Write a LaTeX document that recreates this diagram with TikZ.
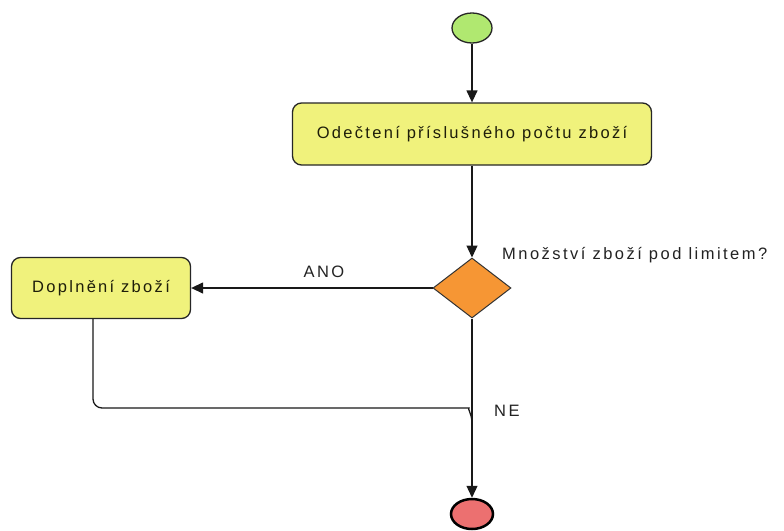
\documentclass[tikz,border=0pt]{standalone}
\usepackage{fontspec}
\setmainfont{Liberation Sans}
\newfontfamily\actfont[LetterSpace=14]{Liberation Sans}
\newfontfamily\notefont[LetterSpace=15]{Liberation Sans}
\usetikzlibrary{arrows.meta,shapes.geometric}
\definecolor{actfill}{RGB}{240,242,124}
\definecolor{startfill}{RGB}{176,232,112}
\definecolor{endfill}{RGB}{236,112,112}
\definecolor{decfill}{RGB}{246,150,52}
\definecolor{txt}{RGB}{30,30,10}
\definecolor{lbl}{RGB}{35,35,35}
\tikzset{
  action/.style={draw=black!85, line width=1.3pt, fill=actfill, rounded corners=9pt,
    font=\actfont\fontsize{16.5}{19}\selectfont, text=txt, inner sep=0pt},
  startnode/.style={ellipse, draw=black!85, line width=1.3pt, fill=startfill,
    minimum width=40pt, minimum height=30pt, inner sep=0pt},
  endnode/.style={ellipse, draw=black, line width=2.5pt, fill=endfill,
    minimum width=42pt, minimum height=30pt, inner sep=0pt},
  decision/.style={diamond, draw=black!80, line width=1pt, fill=decfill,
    minimum width=78pt, minimum height=60pt, inner sep=0pt, aspect=1.3},
  flow/.style={draw=black!90, line width=1.3pt, -{Triangle[width=11pt,length=12pt]}},
  link/.style={draw=black!90, line width=1.3pt},
  note/.style={font=\notefont\fontsize{16.5}{19}\selectfont, text=lbl, inner sep=0pt}
}
\begin{document}
\begin{tikzpicture}[x=1pt,y=-1pt]
\useasboundingbox (0,0) rectangle (784,530);
\fill[white] (0,0) rectangle (784,530);

\node[startnode] (start) at (472,28) {};
\node[action, minimum width=359pt, minimum height=62pt] (sub) at (472,134)
  {Odečtení příslušného počtu zboží};
\node[decision] (dec) at (472,288) {};
\node[action, minimum width=179pt, minimum height=61pt] (refill) at (101,288)
  {Doplnění zboží};
\node[endnode] (stop) at (472,514) {};

\coordinate (merge) at (472,422);

\draw[flow] (start) -- (sub);
\draw[flow] (sub) -- (dec);
\draw[flow] (dec) -- node[pos=0.45, above=10pt, note]{ANO} (refill);
\draw[flow] (dec) -- (stop);
\draw[link, rounded corners=9pt] ([xshift=-8pt]refill.south) -- (93,408) -- (460,408)
  to[out=0,in=90] (merge);

\node[note, anchor=west] (q) at (502,255) {Množství zboží pod limitem?};
\node[note, anchor=west] (ne) at (494,411) {NE};
\end{tikzpicture}
\end{document}
